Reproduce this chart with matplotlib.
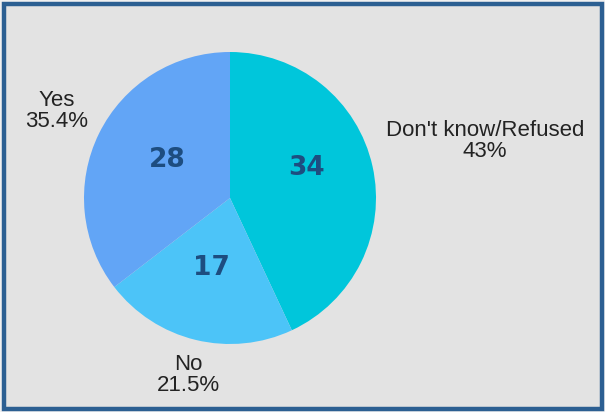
import matplotlib
matplotlib.use("Agg")
import matplotlib.pyplot as plt
from matplotlib.patches import Rectangle

categories = ["Don't know/Refused", "No", "Yes"]
counts = [34, 17, 28]
pct_labels = ["43%", "21.5%", "35.4%"]
colors = ["#00c6db", "#4cc4f8", "#62a5f6"]

W, H = 605, 412
fig = plt.figure(figsize=(W / 100, H / 100), dpi=100)
fig.patch.set_facecolor("#f0f0f0")
ax = fig.add_axes([0, 0, 1, 1])
ax.set_xlim(0, W)
ax.set_ylim(0, H)
ax.axis("off")

# frame
ax.add_patch(Rectangle((4, 3.5), 597.5, 404.5, facecolor="#e3e3e3",
                       edgecolor="#2c5f92", linewidth=3.2, zorder=0))

cx, cy, r = 230, H - 198, 146
wedges, _ = ax.pie(counts, colors=colors, startangle=90, counterclock=False,
                   center=(cx, cy), radius=r, frame=True,
                   wedgeprops=dict(linewidth=0))
ax.set_xlim(0, W)
ax.set_ylim(0, H)
ax.axis("off")

num_pos = [(306, 168), (211, 268), (167, 160)]
for v, (x, y) in zip(counts, num_pos):
    ax.text(x, H - y, str(v), ha="center", va="center", fontsize=19,
            fontweight="bold", color="#1d4d80", family="DejaVu Sans")

lab_pos = [(485, 141), (188, 375), (57, 111)]
for c, p, (x, y) in zip(categories, pct_labels, lab_pos):
    ax.text(x, H - y, f"{c}\n{p}", ha="center", va="center", fontsize=16,
            color="#232323", family=["Liberation Sans", "DejaVu Sans"],
            linespacing=1.0)

fig.savefig("out.png", dpi=100, facecolor=fig.get_facecolor())
